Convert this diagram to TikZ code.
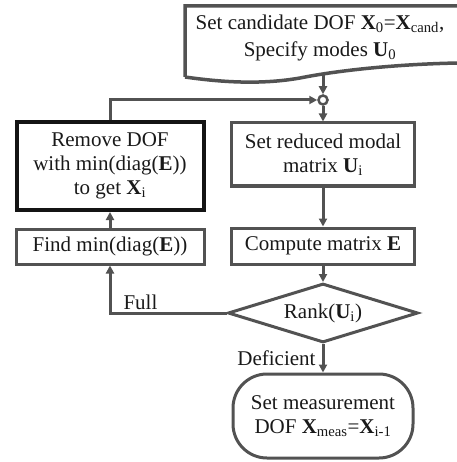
\documentclass[tikz,border=0pt]{standalone}
\usepackage{fontspec}
\setmainfont{Liberation Serif}
\usetikzlibrary{shapes.geometric,arrows.meta}
\newcommand{\bX}{\textbf{X}}
\newcommand{\bU}{\textbf{U}}
\newcommand{\bE}{\textbf{E}}
\begin{document}
\begin{tikzpicture}[x=1pt,y=-1pt]
  \tikzstyle{every node} = [font=\fontsize{21}{24}\selectfont,text=black!90]
  \tikzstyle{proc}   = [rectangle,draw=black!68,line width=3pt,align=center,inner sep=0pt]
  \tikzstyle{procB}  = [rectangle,draw=black!92,line width=4pt,align=center,inner sep=0pt]
  \tikzstyle{decide} = [diamond,draw=black!68,line width=3pt,aspect=3.2,inner sep=0pt,minimum width=190pt,minimum height=59pt]
  \tikzstyle{term}   = [rectangle,rounded corners=34pt,draw=black!68,line width=3pt,align=center,inner sep=0pt]
  \tikzstyle{joint}  = [circle,draw=black!68,line width=2.5pt,fill=white,inner sep=0pt,minimum size=9pt]
  \tikzstyle{sec}    = [draw=black!68,line width=3pt,-{Triangle[length=8pt,width=8pt]}]
  \useasboundingbox (0,0) rectangle (456,462);
  % start (document shape)
  \draw[draw=black!68,line width=3.5pt,fill=white]
    (185,77) -- (185,6) -- (459,6) -- (459,63)
    .. controls (400,64) and (340,70) .. (300,78)
    .. controls (260,85) and (220,82) .. (185,77);
  \path (320, 38) node[align=center](start) {Set candidate DOF \bX\textsubscript{0}=\bX\textsubscript{cand},\\[3pt]Specify modes \bU\textsubscript{0}};
  \coordinate (startB) at (323,74);
  % right column
  \path (323,100) node[joint](jn) {};
  \path (323,154.5) node[proc,minimum width=183pt,minimum height=63pt](reduce) {Set reduced modal\\matrix \bU\textsubscript{i}};
  \path (323,246) node[proc,minimum width=183pt,minimum height=36pt](compute) {Compute matrix \bE};
  \path (323,313) node[decide](rank) {Rank(\bU\textsubscript{i})};
  \path (323,416) node[term,minimum width=180pt,minimum height=84pt](meas) {Set measurement\\DOF \bX\textsubscript{meas}=\bX\textsubscript{i-1}};
  % left column
  \path (110,166) node[procB,minimum width=187pt,minimum height=88pt](remove) {Remove DOF\\with min(diag(\bE))\\to get \bX\textsubscript{i}};
  \path (110,246.5) node[proc,minimum width=188pt,minimum height=35pt](find) {Find min(diag(\bE))};
  % connectors
  \draw[sec] (startB) -- (jn);
  \draw[sec] (jn) -- (reduce);
  \draw[sec] (reduce) -- (compute);
  \draw[sec] (compute) -- (rank);
  \draw[sec] (rank) -- node[left,inner sep=6pt] {Deficient} (meas);
  \draw[sec] (rank.west) -| node[pos=0.5,anchor=south west,xshift=10pt,inner sep=2pt] {Full} (find);
  \draw[sec] (find) -- (remove);
  \draw[sec] (remove.north) |- (jn);
\end{tikzpicture}
\end{document}
